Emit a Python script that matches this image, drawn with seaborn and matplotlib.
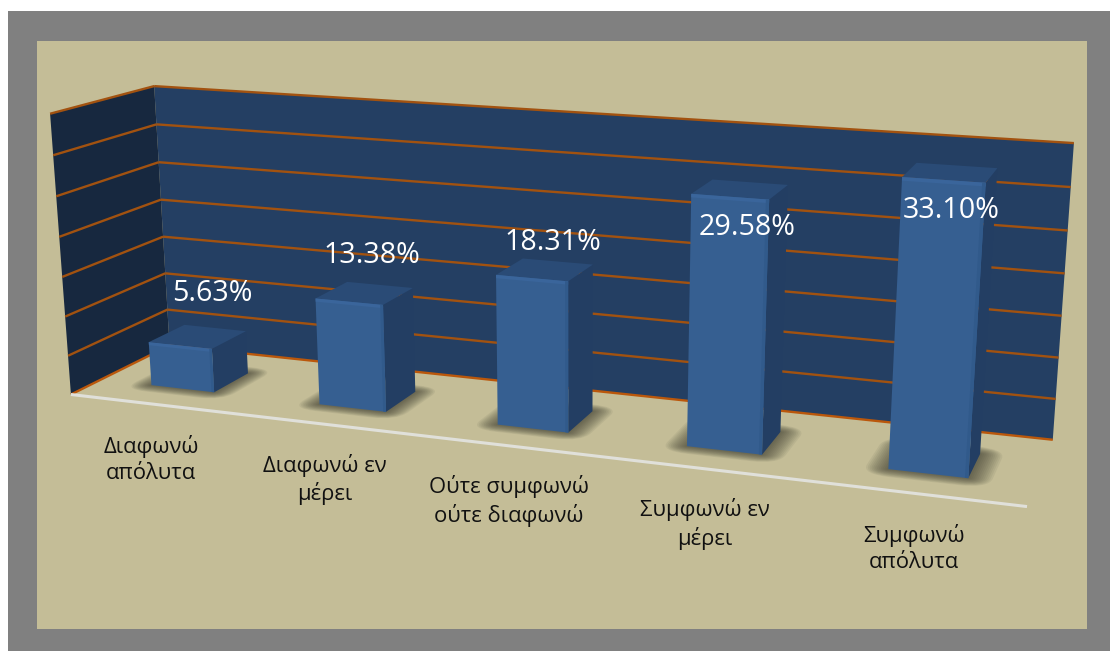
import numpy as np
import matplotlib
matplotlib.use("Agg")
import matplotlib.pyplot as plt
import matplotlib.transforms as mtransforms
from matplotlib.patches import Rectangle, FancyBboxPatch
import seaborn as sns

categories = ["Διαφωνώ\nαπόλυτα", "Διαφωνώ εν\nμέρει", "Ούτε συμφωνώ\nούτε διαφωνώ", "Συμφωνώ εν\nμέρει", "Συμφωνώ\nαπόλυτα"]
values = [5.63, 13.38, 18.31, 29.58, 33.10]
value_labels = ["5.63%", "13.38%", "18.31%", "29.58%", "33.10%"]
grid_levels = [0, 5, 10, 15, 20, 25, 30, 35]

# placement of the data labels relative to the top of each bar, in pixels (x right, y up)
label_offsets = [(14, 43), (7, 38), (8, 27), (7, -38), (1, -38)]
tick_label_offset = (-3, -55)

# camera of the 3-D scene: (category, value, depth) -> normalised picture coordinates
CAMERA = np.array([[0.36011506714670427, -5.4510749091425925e-05, 0.1331870794240853, -0.7921215344582562],
                   [0.03339412274448518, -0.01584904902972569, -0.09142571256483871, 0.20844142598423115],
                   [-0.029264257081682784, -0.0011531695046530554, 0.0879590705817474, 1.0]])
WIDTH, HEIGHT = 1110, 651
BAR_WIDTH, DEPTH_FRONT, DEPTH_BACK = 0.38, 0.29, 0.66
X_MIN, X_MAX = -0.5, 4.5

GREY, BEIGE = "#808080", "#C4BD97"
BACK_WALL, LEFT_WALL = "#243F63", "#17283F"
GRID, FLOOR_GRID, AXIS_LINE = "#A25210", "#BA570B", "#E0E0DA"
FRONT, RIM_TOP, RIM_SIDE, SIDE, TOP = "#365F91", "#3A659B", "#315A8B", "#233E63", "#2A4B76"
TEXT_DARK = "#111111"


class Plane(mtransforms.Transform):
    """Projects a plane of the 3-D scene to display pixels."""
    input_dims = output_dims = 2
    is_separable = False
    has_inverse = False

    def __init__(self, to_scene):
        super().__init__()
        self.to_scene = to_scene

    def transform_non_affine(self, values):
        a, b = np.asarray(values, float).T
        x, h, d = self.to_scene(a, b)
        q = CAMERA @ np.vstack([x, h, d, np.ones_like(x)])
        px = q[0] / q[2] * 500 + 550
        py = q[1] / q[2] * 500 + 300
        return np.column_stack([px, HEIGHT - py])


def at_depth(depth):      # (category, value)
    return Plane(lambda a, b: (a, b, np.full_like(a, depth)))


def at_x(x):              # (depth, value)
    return Plane(lambda a, b: (np.full_like(a, x), b, a))


def at_height(h):         # (category, depth)
    return Plane(lambda a, b: (a, np.full_like(a, h), b))


sns.set_theme(style="white")
plt.rcParams["font.family"] = ["Open Sans", "DejaVu Sans"]

fig = plt.figure(figsize=(WIDTH / 100, HEIGHT / 100), dpi=100, facecolor="white")
ax = fig.add_axes([0, 0, 1, 1])

sns.barplot(x=categories, y=values, width=BAR_WIDTH, color=FRONT, saturation=1, ax=ax)
bars = list(ax.patches)
ax.set_axis_off()

# picture frame
frame = fig.transFigure
ax.add_patch(Rectangle((8 / WIDTH, 0), 1 - 8 / WIDTH, 1 - 11 / HEIGHT, transform=frame, color=GREY, lw=0, zorder=-3))
ax.add_patch(Rectangle((37 / WIDTH, 1 - 629 / HEIGHT), 1050 / WIDTH, 588 / HEIGHT, transform=frame, color=BEIGE, lw=0, zorder=-2))

# walls and grid
top = grid_levels[-1]
ax.add_patch(Rectangle((X_MIN, 0), X_MAX - X_MIN, top, transform=at_depth(1), fc=BACK_WALL, lw=0, zorder=0))
ax.add_patch(Rectangle((0, 0), 1, top, transform=at_x(X_MIN), fc=LEFT_WALL, lw=0, zorder=0))
for level in grid_levels:
    col = FLOOR_GRID if level == 0 else GRID
    ax.plot([X_MIN, X_MAX], [level, level], color=col, lw=1.7, transform=at_depth(1), zorder=1, solid_capstyle="butt")
    ax.plot([0, 1], [level, level], color=col, lw=1.7, transform=at_x(X_MIN), zorder=1, solid_capstyle="butt")
ax.plot([X_MIN, X_MAX], [0, 0], color=AXIS_LINE, lw=2.2, transform=at_depth(0), zorder=1, solid_capstyle="butt")

# bars: seaborn draws the front faces, the other faces are added in the matching planes
for i, bar in enumerate(bars):
    x0, x1, v = bar.get_x(), bar.get_x() + bar.get_width(), bar.get_height()
    depth = DEPTH_BACK - DEPTH_FRONT
    floor = at_height(0)
    for pad in np.linspace(0.11, 0.01, 12):
        ax.add_patch(FancyBboxPatch((x0, DEPTH_FRONT), x1 - x0, depth,
                                    boxstyle=f"round,pad={pad},rounding_size={pad * 1.3}",
                                    transform=floor, fc="#34342A", alpha=0.07, lw=0, zorder=2))
    ax.add_patch(Rectangle((DEPTH_FRONT, 0), depth, v, transform=at_x(x1), fc=SIDE, lw=0, zorder=3 + i))
    ax.add_patch(Rectangle((x0, DEPTH_FRONT), x1 - x0, depth, transform=at_height(v), fc=TOP, lw=0, zorder=3 + i))
    bar.set_transform(at_depth(DEPTH_FRONT))
    bar.set_linewidth(0)
    bar.set_zorder(3.2 + i)
    front = at_depth(DEPTH_FRONT)
    ax.add_patch(Rectangle((x0, v - 0.4), x1 - x0, 0.4, transform=front, fc=RIM_TOP, lw=0, zorder=3.3 + i))
    ax.add_patch(Rectangle((x1 - 0.016, 0), 0.016, v, transform=front, fc=RIM_SIDE, lw=0, zorder=3.3 + i))

    ax.annotate(categories[i], xy=(i, 0), xycoords=at_depth(0),
                xytext=tick_label_offset, textcoords="offset pixels", ha="center", va="center",
                fontsize=15.8, color=TEXT_DARK, linespacing=1.3, annotation_clip=False, zorder=20)
    ax.annotate(value_labels[i], xy=(i, v), xycoords=at_depth((DEPTH_FRONT + DEPTH_BACK) / 2),
                xytext=label_offsets[i], textcoords="offset pixels", ha="center", va="center",
                fontsize=20.6, color="white", annotation_clip=False, zorder=20)

fig.savefig("out.png", dpi=100, facecolor="white")
